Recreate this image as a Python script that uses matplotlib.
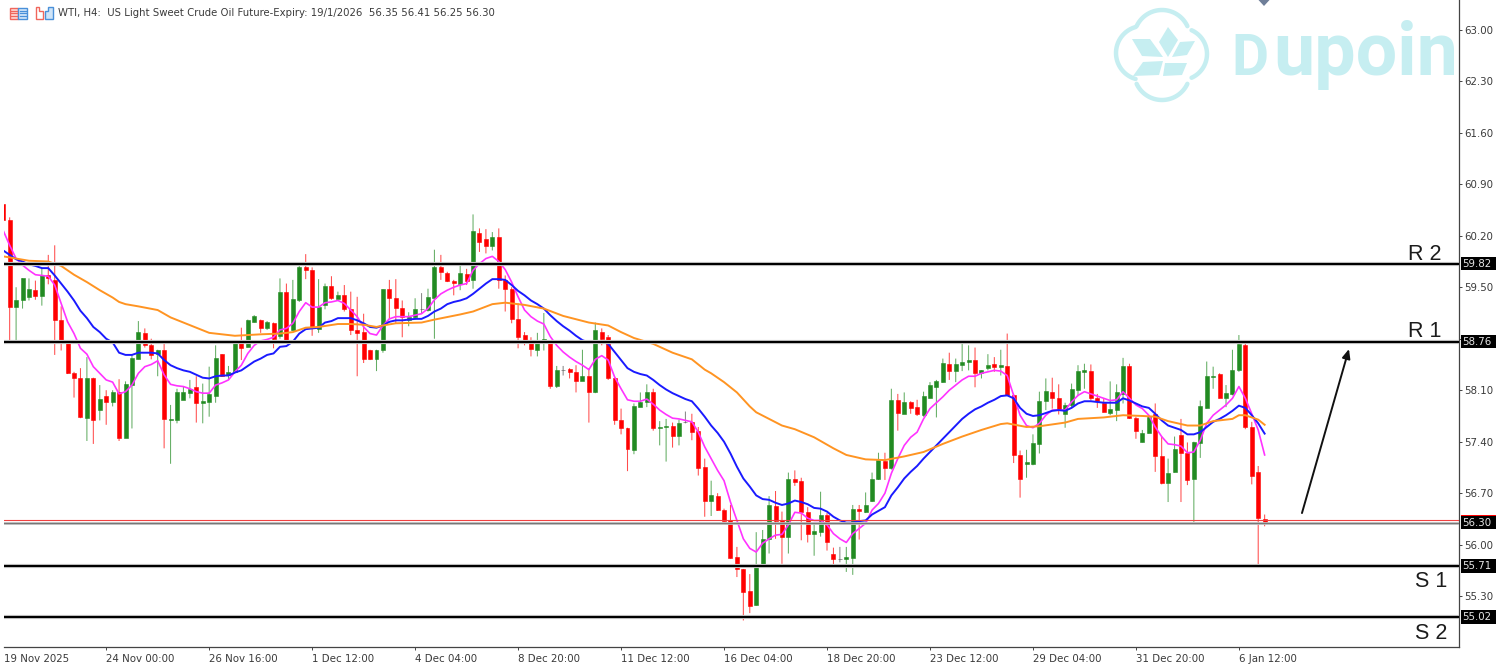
import matplotlib
matplotlib.use('Agg')
import matplotlib.pyplot as plt
import numpy as np
from matplotlib.collections import LineCollection
from matplotlib.patches import Polygon, Rectangle

# WTI H4 candles, first one sits on the left edge
opens = [60.63,
    60.42,59.23,59.32,59.37,59.46,59.38,59.67,59.60,59.05,58.75,
    58.34,58.27,57.72,58.27,57.83,58.02,57.94,58.07,57.45,58.17,
    58.53,58.88,58.72,58.59,58.65,57.70,57.69,57.97,58.06,58.15,
    57.93,57.94,58.02,58.59,58.31,58.35,58.75,58.69,59.03,59.06,
    58.95,59.01,58.84,59.43,58.92,59.33,59.77,59.73,58.93,59.26,
    59.52,59.34,59.39,59.20,58.92,58.89,58.64,58.52,58.64,59.47,
    59.35,59.22,59.06,59.09,59.21,59.19,59.36,59.77,59.70,59.59,
    59.55,59.68,59.60,60.24,60.16,60.06,60.18,59.60,59.47,59.07,
    58.85,58.77,58.65,58.76,58.77,58.16,58.38,58.39,58.35,58.23,
    58.30,58.07,58.89,58.83,58.26,57.69,57.59,57.29,57.87,57.94,
    58.08,57.59,57.60,57.62,57.48,57.67,57.67,57.54,57.05,56.60,
    56.66,56.47,56.33,55.83,55.67,55.37,55.18,55.72,56.08,56.53,
    56.33,56.10,56.89,56.87,56.45,56.14,56.17,56.40,55.88,55.80,
    55.80,55.82,56.48,56.45,56.60,56.89,57.14,57.04,57.97,57.78,
    57.94,57.87,57.76,58.00,58.15,58.21,58.45,58.36,58.44,58.49,
    58.51,58.33,58.40,58.46,58.42,58.43,58.03,57.22,57.10,57.10,
    57.37,57.96,58.08,58.00,57.78,57.90,58.10,58.35,58.36,58.00,
    57.93,57.79,57.83,58.05,58.43,57.72,57.40,57.52,57.78,57.20,
    56.84,56.99,57.49,57.25,56.89,57.38,57.86,58.28,58.32,58.00,
    58.05,58.37,58.71,57.60,56.99,56.35]
closes = [60.42,
    59.23,59.32,59.62,59.47,59.38,59.66,59.62,59.05,58.75,58.34,
    58.27,57.73,58.27,57.70,57.98,57.94,58.07,57.45,58.18,58.54,
    58.89,58.71,58.58,58.65,57.71,57.71,58.07,58.07,58.12,57.93,
    57.95,58.05,58.54,58.29,58.35,58.75,58.68,59.05,59.11,58.94,
    59.03,58.80,59.43,58.76,59.34,59.78,59.73,58.95,59.23,59.52,
    59.35,59.39,59.20,58.92,58.88,58.53,58.53,58.65,59.47,59.36,
    59.22,59.09,59.10,59.20,59.21,59.37,59.78,59.71,59.58,59.56,
    59.69,59.59,60.26,60.12,60.06,60.18,59.60,59.47,59.07,58.82,
    58.74,58.66,58.77,58.79,58.16,58.37,58.38,58.35,58.23,58.30,
    58.08,58.92,58.80,58.26,57.69,57.59,57.30,57.88,57.94,58.07,
    57.58,57.60,57.62,57.48,57.66,57.67,57.53,57.04,56.60,56.67,
    56.47,56.32,55.82,55.67,55.36,55.17,55.72,56.08,56.54,56.32,
    56.11,56.89,56.85,56.45,56.14,56.19,56.41,56.04,55.80,55.80,
    55.83,56.48,56.46,56.54,56.89,57.15,57.04,57.97,57.79,57.94,
    57.86,57.78,58.02,58.17,58.23,58.47,58.36,58.46,58.49,58.51,
    58.33,58.37,58.44,58.41,58.44,58.03,57.22,56.89,57.13,57.38,
    57.96,58.09,58.00,57.83,57.90,58.11,58.36,58.37,58.00,57.95,
    57.81,57.85,58.07,58.43,57.72,57.55,57.52,57.74,57.20,56.84,
    56.98,57.30,57.25,56.88,57.39,57.88,58.30,58.30,58.00,58.06,
    58.38,58.73,57.60,56.94,56.36,56.30]
highs = [60.63,
    60.45,59.50,59.62,59.62,59.59,59.76,59.94,60.07,59.24,58.76,
    58.35,58.40,58.55,58.27,58.17,58.10,58.10,58.25,58.22,58.58,
    59.04,58.94,58.80,58.65,58.76,57.90,58.12,58.15,58.24,58.29,
    58.19,58.42,58.71,58.59,58.43,58.76,58.95,59.06,59.12,59.06,
    59.04,59.02,59.62,59.55,59.60,59.79,59.95,59.77,59.61,59.55,
    59.65,59.44,59.53,59.44,59.37,59.14,58.65,58.65,59.47,59.60,
    59.61,59.32,59.16,59.35,59.42,59.48,60.01,59.94,59.71,59.60,
    59.79,59.75,60.49,60.30,60.29,60.25,60.30,59.66,59.50,59.28,
    58.89,58.82,58.88,59.15,58.78,58.43,58.43,58.40,58.44,58.65,
    58.40,59.02,58.94,58.85,58.26,57.85,57.59,57.92,58.07,58.18,
    58.12,57.68,57.71,57.66,57.70,57.81,57.78,57.60,57.17,56.87,
    56.70,56.49,56.54,55.97,55.67,55.60,56.17,56.20,56.66,56.73,
    56.45,56.98,57.01,56.91,56.51,56.29,56.72,56.43,55.96,55.97,
    55.97,56.54,56.54,56.71,56.98,57.25,57.25,58.12,58.05,58.07,
    57.95,57.97,58.08,58.21,58.24,58.53,58.61,58.53,58.76,58.71,
    58.68,58.37,58.59,58.55,58.65,58.87,58.05,57.28,57.29,57.50,
    58.08,58.26,58.27,58.18,57.93,58.19,58.44,58.46,58.45,58.05,
    57.99,58.22,58.18,58.54,58.46,57.74,57.56,57.74,57.92,57.47,
    57.17,57.47,57.71,57.39,57.40,57.96,58.49,58.42,58.33,58.17,
    58.65,58.85,58.74,57.67,57.07,56.41]
lows = [60.42,
    58.77,58.77,59.21,59.32,59.33,59.25,59.54,58.58,58.64,58.32,
    58.00,57.72,57.41,57.37,57.69,57.63,57.88,57.41,57.45,57.58,
    58.52,58.68,58.52,58.29,57.31,57.10,57.65,57.97,57.99,57.66,
    57.65,57.74,57.93,58.28,58.24,58.34,58.51,58.68,59.02,58.88,
    58.92,58.67,58.80,58.76,58.91,59.30,59.61,58.84,58.88,59.20,
    59.33,59.33,59.17,58.85,58.29,58.47,58.51,58.36,58.61,59.07,
    59.01,58.82,58.97,59.06,59.14,59.17,58.80,59.60,59.57,59.39,
    59.46,59.53,59.48,59.98,59.96,60.00,59.48,59.17,59.01,58.67,
    58.71,58.56,58.56,58.64,58.12,58.13,58.30,58.26,58.07,58.23,
    57.66,58.06,58.71,58.24,57.63,57.50,57.00,57.23,57.87,57.87,
    57.55,57.35,57.13,57.32,57.35,57.65,57.42,56.94,56.38,56.39,
    56.46,56.31,55.81,55.56,54.97,55.07,55.17,55.71,55.88,56.08,
    55.74,55.88,56.80,56.06,56.03,55.85,56.11,55.92,55.72,55.76,
    55.63,55.59,56.07,56.43,56.58,56.88,56.88,57.02,57.55,57.78,
    57.78,57.75,57.74,57.99,57.73,58.20,58.24,58.21,58.36,58.37,
    58.14,58.26,58.37,58.35,58.30,58.02,57.11,56.64,56.91,57.08,
    57.24,57.83,57.85,57.77,57.59,57.87,58.02,58.12,57.96,57.86,
    57.80,57.76,57.68,57.92,57.71,57.44,57.39,57.51,56.99,56.82,
    56.58,56.98,56.58,56.81,56.31,57.18,57.85,58.12,57.99,57.87,
    58.03,58.35,57.57,56.82,55.72,56.25]

# moving averages, one value per candle except the slow one
ma_fast = [60.27,
    60.07,59.89,59.80,59.73,59.67,59.66,59.65,59.53,59.28,59.03,
    58.87,58.67,58.59,58.42,58.33,58.24,58.21,58.05,58.08,58.17,
    58.33,58.42,58.45,58.50,58.31,58.18,58.16,58.15,58.12,58.08,
    58.06,58.06,58.17,58.20,58.24,58.35,58.44,58.60,58.71,58.77,
    58.79,58.82,58.92,58.94,59.01,59.17,59.29,59.23,59.23,59.29,
    59.30,59.32,59.28,59.19,59.10,58.96,58.87,58.85,58.98,59.07,
    59.10,59.10,59.10,59.12,59.14,59.21,59.33,59.41,59.46,59.50,
    59.53,59.55,59.73,59.82,59.89,59.92,59.85,59.74,59.57,59.37,
    59.19,59.10,59.04,59.00,58.83,58.71,58.62,58.55,58.49,58.44,
    58.38,58.52,58.57,58.51,58.28,58.12,57.97,57.95,57.95,57.98,
    57.91,57.83,57.77,57.72,57.71,57.69,57.67,57.53,57.33,57.17,
    57.01,56.87,56.58,56.33,56.08,55.95,55.90,56.02,56.08,56.13,
    56.14,56.27,56.44,56.43,56.36,56.33,56.33,56.27,56.15,56.08,
    56.03,56.15,56.22,56.29,56.47,56.56,56.70,56.97,57.17,57.35,
    57.46,57.53,57.71,57.85,57.93,58.01,58.10,58.17,58.24,58.29,
    58.29,58.33,58.35,58.37,58.36,58.30,58.03,57.76,57.62,57.59,
    57.65,57.76,57.83,57.83,57.83,57.94,58.03,58.08,58.05,58.02,
    57.99,57.96,57.97,58.08,57.99,57.90,57.85,57.76,57.60,57.47,
    57.37,57.36,57.34,57.25,57.26,57.42,57.65,57.76,57.83,57.90,
    57.99,58.15,57.99,57.78,57.56,57.22]
ma_mid = [60.00,
    59.94,59.88,59.85,59.81,59.79,59.76,59.76,59.66,59.55,59.44,
    59.32,59.18,59.08,58.96,58.89,58.80,58.75,58.61,58.58,58.58,
    58.61,58.61,58.61,58.60,58.51,58.44,58.40,58.37,58.35,58.31,
    58.27,58.26,58.29,58.30,58.30,58.34,58.37,58.43,58.49,58.53,
    58.58,58.60,58.69,58.70,58.76,58.87,58.93,58.94,58.95,59.02,
    59.04,59.08,59.08,59.08,59.05,59.01,58.96,58.95,58.98,59.03,
    59.05,59.05,59.06,59.07,59.07,59.11,59.17,59.21,59.27,59.30,
    59.32,59.35,59.41,59.48,59.55,59.61,59.61,59.60,59.53,59.45,
    59.39,59.32,59.27,59.21,59.12,59.04,58.97,58.91,58.84,58.78,
    58.75,58.75,58.76,58.73,58.62,58.51,58.40,58.35,58.32,58.30,
    58.24,58.17,58.11,58.06,58.02,57.98,57.95,57.85,57.74,57.62,
    57.52,57.40,57.24,57.06,56.90,56.79,56.67,56.62,56.61,56.57,
    56.54,56.56,56.60,56.58,56.55,56.50,56.49,56.45,56.38,56.33,
    56.30,56.30,56.32,56.33,56.41,56.46,56.51,56.67,56.78,56.90,
    56.99,57.07,57.17,57.26,57.35,57.44,57.53,57.62,57.71,57.78,
    57.84,57.88,57.93,57.97,58.02,58.03,57.99,57.86,57.78,57.75,
    57.76,57.79,57.82,57.83,57.82,57.86,57.92,57.95,57.95,57.94,
    57.93,57.93,57.93,57.99,57.96,57.92,57.88,57.86,57.78,57.69,
    57.62,57.59,57.56,57.50,57.50,57.53,57.60,57.67,57.71,57.76,
    57.82,57.89,57.86,57.76,57.65,57.51]
ma_slow_idx = [-1,1,3,6,8,10,12,14,16,17,18,20,23,25,27,29,31,33,35,37,39,42,44,46,48,51,53,55,57,
    58,60,64,66,70,72,75,77,80,83,86,90,93,95,97,100,103,106,108,109,111,113,115,
    116,118,120,122,125,128,130,133,136,139,142,145,148,151,154,155,158,160,164,166,170,
    173,176,178,180,183,185,187,190,191,192,194,195]
ma_slow = [59.92,59.89,59.86,59.85,59.79,59.67,59.57,59.46,59.36,59.30,59.27,59.24,59.19,59.09,59.02,58.95,58.88,58.86,58.84,58.85,58.86,58.87,58.89,58.95,58.96,59.00,59.00,58.99,58.96,
    58.98,59.01,59.02,59.06,59.13,59.17,59.27,59.29,59.26,59.21,59.11,59.02,58.98,58.89,58.81,58.73,58.61,58.52,58.38,58.33,58.21,58.07,57.88,
    57.80,57.71,57.62,57.57,57.46,57.31,57.22,57.16,57.15,57.20,57.26,57.37,57.47,57.56,57.64,57.65,57.60,57.61,57.66,57.71,57.73,
    57.76,57.75,57.74,57.68,57.62,57.62,57.68,57.71,57.76,57.76,57.70,57.63]

# horizontal levels and price scale
levels = [59.82, 58.76, 55.71, 55.02]
level_names = ['R 2', 'R 1', 'S 1', 'S 2']
bid = 56.30
ask = 56.33
y_ticks = [63.00, 62.30, 61.60, 60.90, 60.20, 59.50, 58.80, 58.10, 57.40, 56.70, 56.00, 55.30]
x_ticks = [15, 31, 47, 63, 79, 95, 111, 127, 143, 159, 175, 191]
x_labels = ['24 Nov 00:00', '26 Nov 16:00', '1 Dec 12:00', '4 Dec 04:00', '8 Dec 20:00', '11 Dec 12:00',
            '16 Dec 04:00', '18 Dec 20:00', '23 Dec 12:00', '29 Dec 04:00', '31 Dec 20:00', '6 Jan 12:00']
title = 'WTI, H4:  US Light Sweet Crude Oil Future-Expiry: 19/1/2026  56.35 56.41 56.25 56.30'

TEXT = '#3a3a3a'
WATER = '#c6eef1'

fig = plt.figure(figsize=(15.03, 6.72), dpi=100, facecolor='white')

# background layer in pixel units for the logo and the small icons
bg = fig.add_axes([0, 0, 1, 1], zorder=0)
bg.set_xlim(0, 1503)
bg.set_ylim(672, 0)
bg.axis('off')

# lobes of the logo ring: centre x, centre y, radius, start and end angle
lobes = [(1162, 38, 28, 25, 155), (1143, 53, 27, 106, 254),
         (1162, 72, 28, 205, 335), (1181, 54, 26, -66, 66)]
for cx, cy, r, a0, a1 in lobes:
    t = np.radians(np.linspace(a0, a1, 40))
    bg.plot(cx + r * np.cos(t), cy - r * np.sin(t), color=WATER, lw=3.2, solid_capstyle='round')
petals = [[(1168, 27), (1178, 40), (1168, 57), (1159, 42)],
          [(1132, 39), (1150, 39), (1163, 57), (1142, 56)],
          [(1195, 41), (1187, 55), (1172, 57), (1180, 42)],
          [(1143, 62), (1163, 61), (1159, 75), (1133, 76)],
          [(1165, 63), (1187, 63), (1182, 75), (1163, 76)]]
for petal in petals:
    bg.add_patch(Polygon(petal, closed=True, fc=WATER, ec='none'))
bg.text(1231, 75, 'D', fontsize=41, family='Roboto', weight='bold', color=WATER, va='baseline')
bg.text(1273, 75, 'upoin', fontsize=53, family='Roboto', weight='bold', color=WATER, va='baseline')

# toolbar icons next to the symbol line
bg.add_patch(Rectangle((9.5, 7.5), 8.5, 11, fc='#ffd9d5', ec='#f0665c', lw=1))
bg.add_patch(Rectangle((18, 7.5), 9, 11, fc='#d5e8fa', ec='#4a90d9', lw=1))
for yy in [10.5, 13, 15.5]:
    bg.plot([11, 16.5], [yy, yy], color='#f0665c', lw=0.9)
    bg.plot([19.5, 25.5], [yy, yy], color='#4a90d9', lw=0.9)
bg.add_patch(Polygon([(35.5, 7), (39, 7), (39, 11), (43, 11), (43, 18.5), (35.5, 18.5)], fc='white', ec='#f0665c', lw=1))
bg.add_patch(Polygon([(45, 11), (48, 11), (48, 7), (52.5, 7), (52.5, 18.5), (45, 18.5)], fc='#cfe4f8', ec='#4a90d9', lw=1))
bg.text(58, 13, title, fontsize=7.28, color=TEXT, va='center', ha='left')
bg.add_patch(Polygon([(1258.5, 0), (1269.5, 0), (1264, 6)], fc='#6f7f99', ec='none'))

ax = fig.add_axes([4 / 1503, (672 - 647.3) / 672, 1455 / 1503, 647.3 / 672], zorder=1)
ax.patch.set_visible(False)
ax.set_xlim(-0.88, 225.2)
ax.set_ylim(54.605, 63.405)

x = np.arange(-1, len(opens) - 1)
o = np.array(opens)
c = np.array(closes)
colors = ['#228b22' if b > a else '#ff0000' if b < a else '#555555' for a, b in zip(o, c)]

wicks = [[(i, l), (i, h)] for i, l, h in zip(x, lows, highs)]
wick_lines = LineCollection(wicks, colors=colors, linewidths=0.75, alpha=0.7, zorder=2, capstyle='butt')
wick_lines.set_snap(False)
ax.add_collection(wick_lines)
ax.bar(x, np.abs(c - o), bottom=np.minimum(o, c), width=0.62, color=colors, edgecolor=colors, linewidth=0.4, zorder=3)

ax.plot(x, ma_fast, color='#ff33ff', lw=1.2, zorder=4)
ax.plot(x, ma_mid, color='#1a1aff', lw=1.4, zorder=4)
ax.plot(ma_slow_idx, ma_slow, color='#ff9422', lw=1.4, zorder=4)

for lev in levels:
    ax.axhline(lev, color='#c4c4c4', lw=3.0, zorder=5)
    ax.axhline(lev, color='black', lw=1.5, zorder=6)
ax.axhline(bid, color='#c4c4c4', lw=2.0, zorder=5)
ax.axhline(bid, color='#777777', lw=0.9, zorder=6)
ax.axhline(ask, color='#f04040', lw=0.8, zorder=6)

ax.annotate('', xy=(208.1, 58.66), xytext=(200.8, 56.43),
            arrowprops=dict(arrowstyle='-|>,head_length=0.55,head_width=0.24', color='#111111', lw=1.4,
                            shrinkA=0, shrinkB=0), zorder=7)

name_x = [217.3, 217.3, 218.4, 218.4]
name_y = [59.87, 58.82, 55.42, 54.72]
for nx, ny, name in zip(name_x, name_y, level_names):
    ax.text(nx, ny, name, fontsize=15.5, family='Liberation Sans', color='#1c1c1c', va='baseline', zorder=7)

for side in ['top', 'left']:
    ax.spines[side].set_visible(False)
for side in ['right', 'bottom']:
    ax.spines[side].set_color('#444444')
    ax.spines[side].set_linewidth(0.9)

ax.yaxis.tick_right()
ax.set_yticks(y_ticks)
ax.set_yticklabels(['' if t == 58.80 else f'{t:.2f}' for t in y_ticks], fontsize=7.4, color=TEXT)
ax.tick_params(axis='y', length=2.5, width=0.7, color='#444444', pad=1.5)
ax.set_xticks(x_ticks)
ax.set_xticklabels(x_labels, fontsize=7.4, color=TEXT, ha='left')
ax.tick_params(axis='x', length=2.5, width=0.7, color='#444444', pad=2.5)
ax.text(-0.88, 54.45, '19 Nov 2025', fontsize=7.4, color=TEXT, va='center', ha='left', clip_on=False)

# price tags on the scale
trans = ax.get_yaxis_transform()
tag_x0 = 1 + 1.5 / 1455
tag_w = 36 / 1455
tag_h = 13.5 / 73.57
for val in levels + [bid]:
    ax.add_patch(Rectangle((tag_x0, val - tag_h / 2), tag_w, tag_h, transform=trans, fc='black', ec='none',
                           clip_on=False, zorder=8))
    ax.text(tag_x0 + 2 / 1455, val, f'{val:.2f}', transform=trans, fontsize=7.4, color='#e6e6e6',
            va='center', ha='left', clip_on=False, zorder=9)
ax.add_patch(Rectangle((tag_x0, bid + tag_h / 2 - 0.002), tag_w, 1.5 / 73.57, transform=trans, fc='#ff0000', ec='none',
                       clip_on=False, zorder=8))

plt.savefig('out.png', dpi=100)
